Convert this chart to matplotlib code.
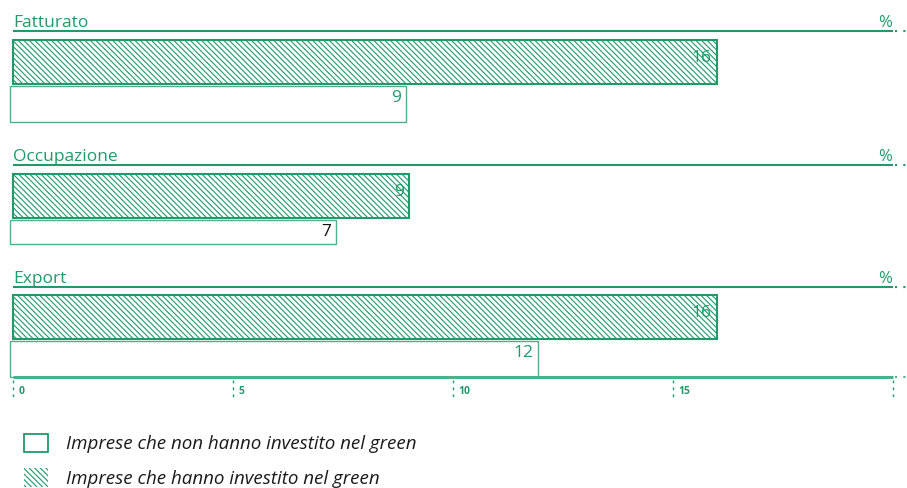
import matplotlib
matplotlib.use("Agg")
import matplotlib.pyplot as plt
from matplotlib.patches import Patch

# ---- data ----
categories = ["Fatturato", "Occupazione", "Export"]
green_invest = [16, 9, 16]          # Imprese che hanno investito nel green
no_green_invest = [9, 7.4, 12]      # Imprese che non hanno investito nel green
x_ticks = [0, 5, 10, 15, 20]
x_tick_labels = ["0", "5", "10", "15", ""]
legend_labels = ["Imprese che non hanno investito nel green",
                 "Imprese che hanno investito nel green"]
unit = "%"

# ---- layout (pixel rows) ----
header_y = [31, 165, 287]
green_top = [40, 174, 295]
green_h = [44, 44, 44]
nog_top = [86, 220, 341]
nog_h = [36, 24, 36]
axis_y = 377

GREEN = "#1f9a6a"
LIGHT = "#4cb08a"
plt.rcParams['font.family'] = ['Open Sans', 'DejaVu Sans']
plt.rcParams['hatch.linewidth'] = 0.8
plt.rcParams['hatch.color'] = LIGHT

fig = plt.figure(figsize=(9.07, 4.88), dpi=100)
ax = fig.add_axes([0, 0, 1, 1])
ppu = 44.0
x0px = 13.0
ax.set_xlim(-x0px / ppu, (907 - x0px) / ppu)
ax.set_ylim(488, 0)
ax.axis("off")
xmax = x_ticks[-1]
dx_end = (907 - x0px) / ppu

for i, cat in enumerate(categories):
    # header
    ax.text(0, header_y[i] - 4, cat, color=GREEN, fontsize=12.5, ha="left", va="baseline")
    ax.text(xmax - 0.03, header_y[i] - 4, unit, color=GREEN, fontsize=12, ha="right", va="baseline")
    ax.plot([0, xmax], [header_y[i], header_y[i]], color=GREEN, lw=1.5, solid_capstyle="butt")
    ax.plot([xmax + 0.05, dx_end], [header_y[i], header_y[i]], color=GREEN, lw=1.5, ls=(0, (1, 3)))
    # green bar (hatched)
    ax.barh(green_top[i] + green_h[i] / 2, green_invest[i], height=green_h[i], left=0,
            facecolor="white", edgecolor=GREEN, lw=1.5, hatch="\\\\\\\\\\\\", align="center")
    ax.text(green_invest[i] - 0.12, green_top[i] + 18, f"{green_invest[i]:.0f}",
            color=GREEN, fontsize=12.5, ha="right", va="center")
    # non-green bar
    ax.barh(nog_top[i] + nog_h[i] / 2, no_green_invest[i], height=nog_h[i], left=-0.07,
            facecolor="white", edgecolor=LIGHT, lw=1.0, align="center")
    lab_col = "#111111" if i == 1 else GREEN
    ax.text(no_green_invest[i] - 0.18, nog_top[i] + 12, f"{no_green_invest[i]:.0f}",
            color=lab_col, fontsize=12.5, ha="right", va="center")

# x axis
ax.plot([0, xmax], [axis_y, axis_y], color=LIGHT, lw=2.2, solid_capstyle="butt")
ax.plot([xmax + 0.05, dx_end], [axis_y, axis_y], color=LIGHT, lw=1.5, ls=(0, (1, 3)))
for t, lab in zip(x_ticks, x_tick_labels):
    ax.plot([t, t], [380, 399], color=GREEN, lw=1.0, ls=(0, (2, 3)))
    ax.text(t + 0.12, 392, lab, color=GREEN, fontsize=7.5, fontweight="bold", ha="left", va="center")

# legend
handles = [Patch(facecolor="white", edgecolor=GREEN, lw=1.3),
           Patch(facecolor="white", edgecolor=GREEN, lw=0.0, hatch="\\\\\\\\\\\\")]
leg = ax.legend(handles, legend_labels, loc="upper left", bbox_to_anchor=(24 / 907, 1 - 434 / 488),
                frameon=False, fontsize=13.5, handlelength=1.28, handleheight=1.12,
                handletextpad=0.95, labelspacing=0.8, borderpad=0, borderaxespad=0)
for t in leg.get_texts():
    t.set_fontstyle("italic")
    t.set_color("#1a1a1a")

fig.savefig("out.png", dpi=100)
